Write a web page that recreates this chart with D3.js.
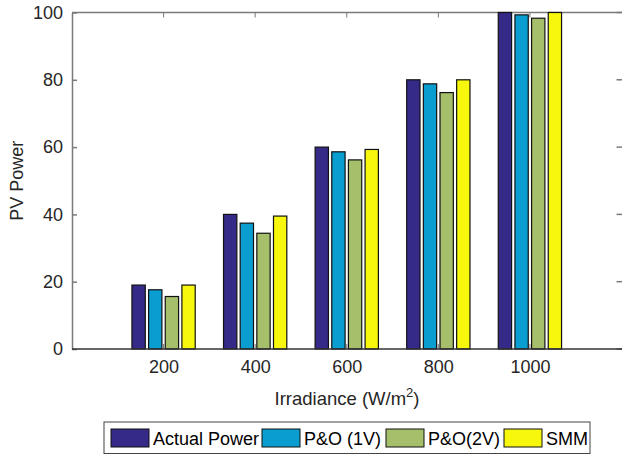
<!DOCTYPE html>
<html>
<head>
<meta charset="utf-8">
<script src="https://cdn.jsdelivr.net/npm/d3@7"></script>
<style>
  html, body { margin: 0; padding: 0; background: #fff; }
  svg { display: block; font-family: "Liberation Sans", Arial, Helvetica, sans-serif; }
</style>
</head>
<body>
<svg id="chart" width="622" height="455"></svg>
<script>
// Irradiance levels (W/m^2) on the x axis
const categories = ["200", "400", "600", "800", "1000"];
// Series names shown in the legend
const seriesNames = ["Actual Power", "P&O (1V)", "P&O(2V)", "SMM"];
// PV power for each series at each irradiance level
const actualPower = [19, 40, 60, 80, 100];
const po1V = [17.6, 37.4, 58.6, 78.8, 99.3];
const po2V = [15.6, 34.4, 56.2, 76.2, 98.3];
const smm = [19, 39.5, 59.3, 80, 100];
const yTicks = [0, 20, 40, 60, 80, 100];

const seriesValues = [actualPower, po1V, po2V, smm];
const colors = ["#352a87", "#0a9dd0", "#a6bf6a", "#f6f70c"];

const svg = d3.select("#chart");
const plotLeft = 72, plotRight = 621.5, plotTop = 12.5, plotBottom = 349;
const axisGray = "#7a7a7a";

// Categories sit at 1..5 inside a [0, 6] range
const x = d3.scalePoint().domain(categories).range([plotLeft, plotRight]).padding(1);
const step = x.step();
const groupWidth = Math.min(0.8, seriesNames.length / (seriesNames.length + 1.5)) * step;
const xSeries = d3.scaleBand().domain(seriesNames)
  .range([-groupWidth / 2, groupWidth / 2])
  .paddingInner(0.2).paddingOuter(0.1);
const y = d3.scaleLinear().domain([0, 100]).range([plotBottom, plotTop]);

// Top box line with inward category ticks
svg.append("line").attr("x1", plotLeft).attr("x2", 622).attr("y1", plotTop).attr("y2", plotTop)
  .attr("stroke", axisGray).attr("stroke-width", 1.5);
svg.append("g").selectAll("line").data(categories).join("line")
  .attr("x1", d => x(d)).attr("x2", d => x(d))
  .attr("y1", plotTop).attr("y2", plotTop + 5)
  .attr("stroke", axisGray).attr("stroke-width", 1);
// Right side inward value ticks (the right edge line falls at the border)
svg.append("g").selectAll("line").data(yTicks).join("line")
  .attr("x1", plotRight - 5).attr("x2", 622)
  .attr("y1", d => y(d)).attr("y2", d => y(d))
  .attr("stroke", axisGray).attr("stroke-width", 1.5);

// Bars
const table = categories.map((c, i) => ({
  cat: c,
  vals: seriesNames.map((s, j) => ({ name: s, value: seriesValues[j][i], color: colors[j] }))
}));

const groups = svg.append("g").selectAll("g").data(table).join("g")
  .attr("transform", d => `translate(${x(d.cat)},0)`);

// Inward x ticks (mostly hidden behind bars)
groups.append("line").attr("x1", 0).attr("x2", 0).attr("y1", plotBottom).attr("y2", plotBottom - 5)
  .attr("stroke", axisGray).attr("stroke-width", 1);

groups.selectAll("rect").data(d => d.vals).join("rect")
  .attr("x", d => xSeries(d.name))
  .attr("width", xSeries.bandwidth())
  .attr("y", d => y(d.value))
  .attr("height", d => y(0) - y(d.value))
  .attr("fill", d => d.color)
  .attr("stroke", "#111")
  .attr("stroke-width", 1.2);

// Y axis
const yAxis = d3.axisLeft(y).tickValues(yTicks).tickSizeInner(-5).tickSizeOuter(0).tickPadding(9);
const gy = svg.append("g").attr("transform", `translate(${plotLeft},0)`).call(yAxis);
gy.select(".domain").attr("stroke", axisGray).attr("stroke-width", 1.5);
gy.selectAll(".tick line").attr("stroke", axisGray).attr("stroke-width", 1.5);
gy.selectAll(".tick text").attr("font-size", 18).attr("fill", "#262626")
  .attr("font-family", "Liberation Sans, Arial, sans-serif");

// X axis
const xAxis = d3.axisBottom(x).tickSize(0).tickPadding(11);
const gx = svg.append("g").attr("transform", `translate(0,${plotBottom})`).call(xAxis);
gx.select(".domain").attr("stroke", "#333").attr("stroke-width", 1.5)
  .attr("d", `M${plotLeft},0H622`);
gx.selectAll(".tick text").attr("font-size", 18).attr("fill", "#262626")
  .attr("font-family", "Liberation Sans, Arial, sans-serif");

// Axis titles
const xt = svg.append("text").attr("x", 347).attr("y", 405)
  .attr("text-anchor", "middle").attr("font-size", 18.5).attr("fill", "#262626");
xt.append("tspan").text("Irradiance (W/m");
xt.append("tspan").attr("font-size", 13).attr("dy", -8).text("2");
xt.append("tspan").attr("dy", 8).text(")");

svg.append("text").attr("transform", `translate(23,${(plotTop + plotBottom) / 2}) rotate(-90)`)
  .attr("text-anchor", "middle").attr("font-size", 18).attr("fill", "#262626")
  .text("PV Power");

// Legend
const legend = svg.append("g");
legend.append("rect").attr("x", 104).attr("y", 422).attr("width", 486).attr("height", 31.5)
  .attr("fill", "#fff").attr("stroke", "#444").attr("stroke-width", 1);
const legendX = [111, 262, 386, 504];
const items = legend.selectAll("g.item").data(seriesNames).join("g").attr("class", "item")
  .attr("transform", (d, i) => `translate(${legendX[i]},429)`);
items.append("rect").attr("width", 38).attr("height", 18)
  .attr("fill", (d, i) => colors[i]).attr("stroke", "#111").attr("stroke-width", 1);
items.append("text").attr("x", 42).attr("y", 16).attr("font-size", 18).attr("fill", "#000")
  .text(d => d);
</script>
</body>
</html>
